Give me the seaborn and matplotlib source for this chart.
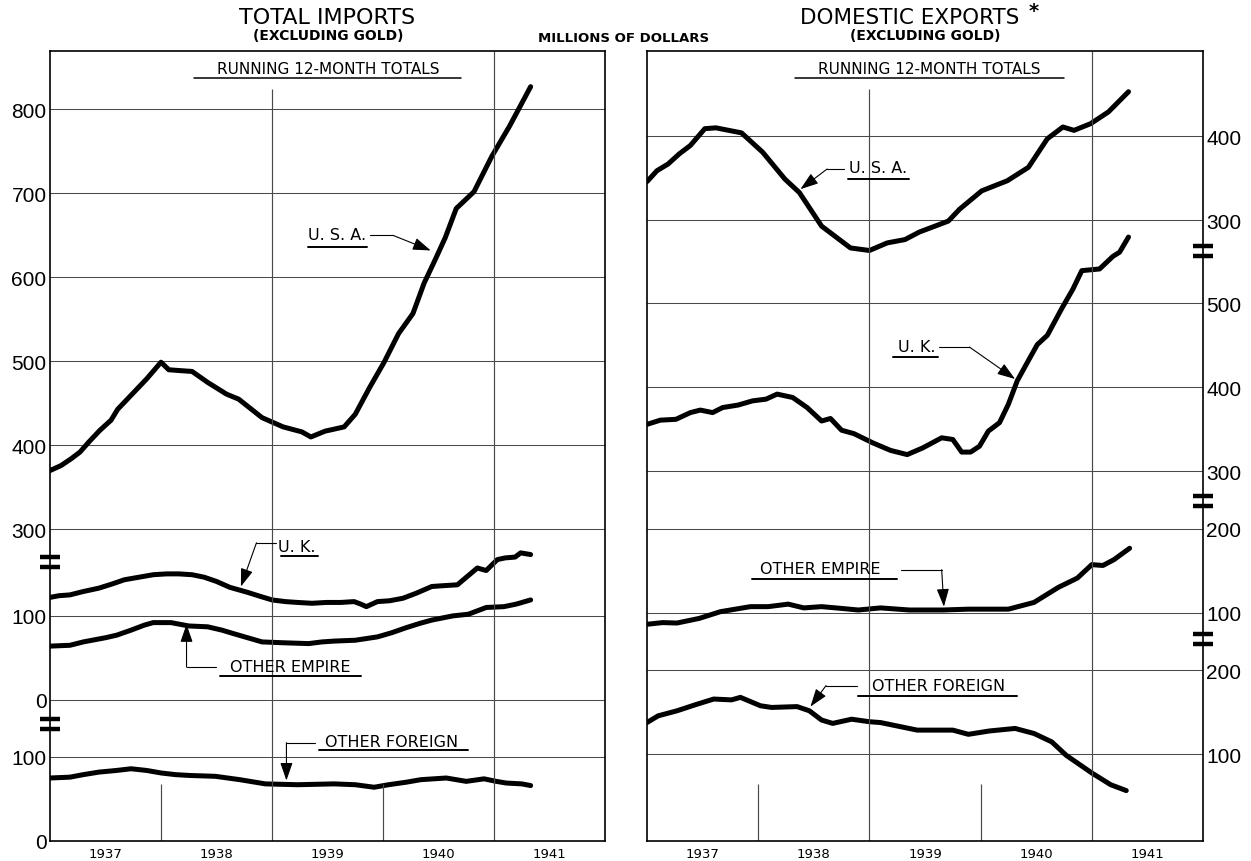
import numpy as np
import pandas as pd
import matplotlib
matplotlib.use("Agg")
import matplotlib.pyplot as plt
import seaborn as sns

sns.set_style("white")
plt.rcParams["font.family"] = ["DejaVu Sans"]
for key in ("text.color", "axes.labelcolor", "xtick.color", "ytick.color"):
    plt.rcParams[key] = "black"

# ---------------------------------------------------------------------------
# Running 12-month totals, millions of dollars (x = fractional calendar year)
# ---------------------------------------------------------------------------
imp_usa_x = [1937.00, 1937.10, 1937.19, 1937.27, 1937.35, 1937.45, 1937.55, 1937.61,
             1937.74, 1937.87, 1938.00, 1938.07, 1938.17, 1938.28, 1938.42, 1938.59,
             1938.70, 1938.91, 1939.10, 1939.27, 1939.35, 1939.48, 1939.55, 1939.65,
             1939.75, 1939.88, 1940.01, 1940.14, 1940.27, 1940.37, 1940.47, 1940.56,
             1940.66, 1940.74, 1940.82, 1940.98, 1941.14, 1941.33]
imp_usa = [370, 376, 384, 392, 404, 418, 430, 443,
           461, 479, 499, 490, 489, 488, 475, 461,
           455, 433, 422, 416, 410, 417, 419, 422,
           437, 469, 499, 533, 557, 593, 621, 647,
           682, 692, 702, 744, 780, 827]

imp_uk_x = [1937.00, 1937.08, 1937.18, 1937.30, 1937.44, 1937.56, 1937.67, 1937.80,
            1937.93, 1938.05, 1938.16, 1938.28, 1938.39, 1938.50, 1938.62, 1938.78,
            1938.90, 1939.00, 1939.12, 1939.23, 1939.36, 1939.49, 1939.62, 1939.74,
            1939.80, 1939.85, 1939.95, 1940.06, 1940.18, 1940.30, 1940.44, 1940.55,
            1940.67, 1940.76, 1940.85, 1940.93, 1941.03, 1941.10, 1941.19, 1941.24,
            1941.33]
imp_uk = [122, 124, 125, 129, 133, 138, 143, 146,
          149, 150, 150, 149, 146, 141, 134, 128,
          123, 119, 117, 116, 115, 116, 116, 117,
          114, 111, 117, 118, 121, 127, 135, 136,
          137, 147, 157, 154, 167, 169, 170, 175,
          173]

imp_emp_x = [1937.00, 1937.18, 1937.30, 1937.38, 1937.50, 1937.60, 1937.73, 1937.85,
             1937.93, 1938.09, 1938.17, 1938.25, 1938.42, 1938.55, 1938.65, 1938.78,
             1938.91, 1939.10, 1939.33, 1939.45, 1939.56, 1939.75, 1939.95, 1940.08,
             1940.21, 1940.33, 1940.44, 1940.63, 1940.77, 1940.93, 1941.09, 1941.20,
             1941.33]
imp_emp = [64, 65, 69, 71, 74, 77, 83, 89,
           92, 92, 90, 88, 87, 83, 79, 74,
           69, 68, 67, 69, 70, 71, 75, 80,
           86, 91, 95, 100, 102, 110, 111, 114,
           119]

imp_for_x = [1937.00, 1937.18, 1937.30, 1937.44, 1937.60, 1937.73, 1937.87, 1938.00,
             1938.13, 1938.26, 1938.49, 1938.60, 1938.71, 1938.94, 1939.23, 1939.56,
             1939.75, 1939.92, 1940.05, 1940.21, 1940.34, 1940.57, 1940.75, 1940.91,
             1941.02, 1941.11, 1941.25, 1941.33]
imp_for = [75, 76, 79, 82, 84, 86, 84, 81,
           79, 78, 77, 75, 73, 68, 67, 68,
           67, 64, 67, 70, 73, 75, 71, 74,
           71, 69, 68, 66]

exp_usa_x = [1937.00, 1937.09, 1937.19, 1937.29, 1937.39, 1937.52, 1937.62, 1937.85,
             1938.04, 1938.24, 1938.37, 1938.57, 1938.67, 1938.83, 1939.00, 1939.16,
             1939.32, 1939.45, 1939.71, 1939.81, 1940.01, 1940.24, 1940.43, 1940.60,
             1940.74, 1940.84, 1940.99, 1941.15, 1941.33]
exp_usa = [346, 359, 367, 379, 389, 409, 410, 404,
           381, 349, 333, 293, 283, 267, 264, 273,
           277, 286, 299, 313, 335, 347, 363, 397,
           411, 407, 415, 429, 453]

exp_uk_x = [1937.00, 1937.12, 1937.26, 1937.39, 1937.48, 1937.59, 1937.68, 1937.82,
            1937.95, 1938.07, 1938.17, 1938.31, 1938.44, 1938.57, 1938.65, 1938.75,
            1938.86, 1939.03, 1939.19, 1939.34, 1939.48, 1939.65, 1939.75, 1939.83,
            1939.91, 1939.99, 1940.07, 1940.17, 1940.25, 1940.33, 1940.43, 1940.51,
            1940.60, 1940.73, 1940.83, 1940.91, 1941.07, 1941.19, 1941.25, 1941.33]
exp_uk = [356, 361, 362, 370, 373, 370, 376, 379,
          384, 386, 392, 388, 376, 360, 363, 349,
          345, 334, 325, 320, 328, 340, 338, 323,
          323, 330, 348, 358, 380, 408, 432, 451,
          462, 494, 517, 539, 541, 556, 561, 579]

exp_emp_x = [1937.00, 1937.14, 1937.27, 1937.47, 1937.66, 1937.93, 1938.09, 1938.27,
             1938.41, 1938.57, 1938.74, 1938.90, 1939.10, 1939.36, 1939.66, 1939.89,
             1940.25, 1940.48, 1940.70, 1940.87, 1941.00, 1941.10, 1941.20, 1941.34]
exp_emp = [86, 88, 87.5, 93, 101, 107, 107, 110,
           105.5, 107, 105, 103, 105.5, 103, 103, 104,
           104, 112, 130, 141, 157, 156, 163, 176.5]

exp_for_x = [1937.00, 1937.10, 1937.27, 1937.43, 1937.60, 1937.76, 1937.84, 1938.02,
             1938.12, 1938.35, 1938.46, 1938.57, 1938.67, 1938.84, 1939.00, 1939.10,
             1939.43, 1939.75, 1939.89, 1940.08, 1940.31, 1940.48, 1940.64, 1940.77,
             1941.00, 1941.17, 1941.31]
exp_for = [138, 146, 152, 159, 166, 165, 168, 158,
           156, 157, 152, 141, 137, 142, 139, 138,
           129, 129, 124, 128, 131, 125, 115, 99,
           78, 64, 57]

year_labels = ["1937", "1938", "1939", "1940", "1941"]

# ---------------------------------------------------------------------------
# Stacked (broken) scale: each band of the chart is shifted by a fixed offset
# ---------------------------------------------------------------------------
Y_TOP = 940
LEFT_OFFSETS = {"usa": 71, "uk": 168, "emp": 168, "for": 0}
RIGHT_OFFSETS = {"usa": 439, "uk": 140, "emp": 172, "for": 3}

LEFT_TICKS = [(800, "usa"), (700, "usa"), (600, "usa"), (500, "usa"), (400, "usa"),
              (300, "usa"), (100, "uk"), (0, "uk"), (100, "for"), (0, "for")]
RIGHT_TICKS = [(400, "usa"), (300, "usa"), (500, "uk"), (400, "uk"), (300, "uk"),
               (200, "emp"), (100, "emp"), (200, "for"), (100, "for")]

W, H = 1251, 862
fig = plt.figure(figsize=(W / 100, H / 100), dpi=100)
fig.patch.set_facecolor("white")

ax_l = fig.add_axes([50 / W, 20 / H, 555 / W, 789.6 / H])
ax_r = fig.add_axes([647 / W, 20 / H, 556 / W, 789.6 / H])

GRID = "#4a4a4a"
LINE_KW = dict(color="black", lw=3.6, solid_joinstyle="round", solid_capstyle="round")


def draw_series(ax, xs, vals, off):
    df = pd.DataFrame({"year": xs, "pos": np.asarray(vals, dtype=float) + off})
    sns.lineplot(data=df, x="year", y="pos", ax=ax, estimator=None, sort=False,
                 legend=False, **LINE_KW)


def frame(ax, ticks, offsets, side):
    ax.set_xlim(1937, 1942)
    ax.set_ylim(0, Y_TOP)
    ax.set_xlabel("")
    ax.set_ylabel("")
    pos = [v + offsets[k] for v, k in ticks]
    ax.set_yticks(pos)
    ax.set_yticklabels([str(v) for v, _ in ticks], fontsize=15,
                       family=["Liberation Sans", "DejaVu Sans"])
    ax.yaxis.grid(True, color=GRID, lw=0.75)
    ax.xaxis.grid(False)
    ax.set_xticks([1937.5, 1938.5, 1939.5, 1940.5, 1941.5])
    ax.set_xticklabels(year_labels, fontsize=9.5)
    ax.tick_params(axis="x", length=0, pad=4)
    ax.tick_params(axis="y", length=0, pad=2.5)
    if side == "right":
        ax.yaxis.tick_right()
    for s in ax.spines.values():
        s.set_color("black")
        s.set_linewidth(1.2)
        s.set_visible(True)
    # year dividers: full at 1939 / 1941, short at 1938 / 1940
    ax.vlines([1939], 0, 895, color=GRID, lw=0.85)
    ax.vlines([1941], 0, Y_TOP, color=GRID, lw=0.85)
    ax.vlines([1938, 1940], 0, 68, color=GRID, lw=0.85)


def break_mark(ax, xa, u):
    tr = ax.get_yaxis_transform()
    for du in (6, -6):
        ax.plot([xa - 0.018, xa + 0.018], [u + du, u + du], transform=tr,
                color="black", lw=3.2, solid_capstyle="butt", clip_on=False, zorder=5)


def tag(ax, text, center, underline, path, fs=11.5):
    ax.text(center[0], center[1], text, ha="center", va="center", fontsize=fs,
            color="black")
    ax.plot(underline[0], [underline[1]] * 2, color="black", lw=1.4)
    px = [p[0] for p in path]
    py = [p[1] for p in path]
    ax.plot(px[:-1], py[:-1], color="black", lw=0.8)
    ax.annotate("", xy=path[-1], xytext=path[-2],
                arrowprops=dict(arrowstyle="-|>,head_length=1.1,head_width=0.38",
                                mutation_scale=10, color="black", lw=0.8,
                                shrinkA=0, shrinkB=0))


# ---- left panel: total imports ----
draw_series(ax_l, imp_usa_x, imp_usa, LEFT_OFFSETS["usa"])
draw_series(ax_l, imp_uk_x, imp_uk, LEFT_OFFSETS["uk"])
draw_series(ax_l, imp_emp_x, imp_emp, LEFT_OFFSETS["emp"])
draw_series(ax_l, imp_for_x, imp_for, LEFT_OFFSETS["for"])
frame(ax_l, LEFT_TICKS, LEFT_OFFSETS, "left")
break_mark(ax_l, 0.0, 332)
break_mark(ax_l, 0.0, 139)

tag(ax_l, "U. S. A.", (1939.59, 722), ((1939.32, 1939.86), 707),
    [(1939.88, 721), (1940.09, 721), (1940.43, 703)])
tag(ax_l, "U. K.", (1939.22, 351), ((1939.08, 1939.41), 339),
    [(1939.04, 355), (1938.86, 355), (1938.72, 303)])
tag(ax_l, "OTHER EMPIRE", (1939.16, 208), ((1938.53, 1939.80), 196),
    [(1938.50, 207), (1938.23, 207), (1938.23, 258)])
tag(ax_l, "OTHER FOREIGN", (1940.08, 118), ((1939.42, 1940.77), 108),
    [(1939.39, 117), (1939.13, 117), (1939.13, 72)])

# ---- right panel: domestic exports ----
draw_series(ax_r, exp_usa_x, exp_usa, RIGHT_OFFSETS["usa"])
draw_series(ax_r, exp_uk_x, exp_uk, RIGHT_OFFSETS["uk"])
draw_series(ax_r, exp_emp_x, exp_emp, RIGHT_OFFSETS["emp"])
draw_series(ax_r, exp_for_x, exp_for, RIGHT_OFFSETS["for"])
frame(ax_r, RIGHT_TICKS, RIGHT_OFFSETS, "right")
break_mark(ax_r, 1.0, 702)
break_mark(ax_r, 1.0, 405)
break_mark(ax_r, 1.0, 240)

tag(ax_r, "U. S. A.", (1939.08, 802), ((1938.81, 1939.36), 788),
    [(1938.77, 800), (1938.62, 800), (1938.38, 776)])
tag(ax_r, "U. K.", (1939.43, 589), ((1939.21, 1939.62), 576),
    [(1939.63, 588), (1939.90, 588), (1940.31, 550)])
tag(ax_r, "OTHER EMPIRE", (1938.56, 324), ((1937.94, 1939.25), 312),
    [(1939.28, 323), (1939.65, 323), (1939.67, 279)])
tag(ax_r, "OTHER FOREIGN", (1939.62, 185), ((1938.90, 1940.33), 173),
    [(1938.89, 185), (1938.61, 185), (1938.47, 160)])

# running-total captions with underline
for ax, xc, (x0, x1) in [(ax_l, 1939.51, (1938.30, 1940.70)),
                         (ax_r, 1939.54, (1938.33, 1940.75))]:
    ax.text(xc, 920, "RUNNING 12-MONTH TOTALS", ha="center", va="center",
            fontsize=11)
    ax.plot([x0, x1], [908, 908], color="black", lw=1.1)

# ---- headings ----
def ftext(x, y, s, **kw):
    fig.text(x / W, 1 - y / H, s, ha="center", va="center", **kw)


ftext(327, 18, "TOTAL IMPORTS", fontsize=16)
ftext(328, 36, "(EXCLUDING GOLD)", fontsize=10, fontweight="bold")
ftext(624, 38, "MILLIONS OF DOLLARS", fontsize=9.5, fontweight="bold")
ftext(910, 18, "DOMESTIC EXPORTS", fontsize=15.5)
ftext(1034, 11, "*", fontsize=14, fontweight="bold")
ftext(925, 36, "(EXCLUDING GOLD)", fontsize=10, fontweight="bold")

fig.savefig("out.png", dpi=100, facecolor="white")
